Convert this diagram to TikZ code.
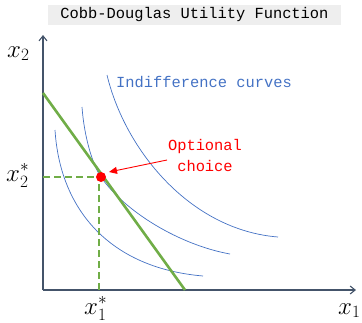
\documentclass[tikz,border=0pt]{standalone}
\usepackage{fontspec}
\setmonofont{Liberation Mono}
\usetikzlibrary{arrows.meta}
\definecolor{icblue}{RGB}{68,114,196}
\definecolor{bgreen}{RGB}{112,173,71}
\definecolor{axisc}{RGB}{68,84,106}
\definecolor{titlebg}{RGB}{238,238,238}
\tikzset{
  axis/.style={draw=axisc, line width=1.1pt, -{Straight Barb[length=5pt,width=8pt]}},
  icurve/.style={draw=icblue, line width=0.7pt},
  budget/.style={draw=bgreen, line width=2.6pt},
  guide/.style={draw=bgreen, line width=2.2pt, dash pattern=on 7pt off 4pt},
  monotxt/.style={font=\fontsize{15.4}{18}\selectfont\ttfamily, inner sep=0pt},
  mathlbl/.style={font=\fontsize{25}{29}\selectfont, inner sep=0pt, anchor=base west},
}
\begin{document}
\begin{tikzpicture}[x=1pt,y=-1pt]
\useasboundingbox (0,0) rectangle (362,322);
% title
\node[fill=titlebg, minimum width=293pt, minimum height=20pt, inner sep=0pt] (titlebox) at (194.5,15) {};
\node[monotxt] (title) at (194.5,15) {Cobb-Douglas Utility Function};
% axes
\coordinate (O) at (43,290);
\coordinate (ytop) at (43,35);
\coordinate (xend) at (356,290);
\draw[axis] (O) -- (ytop);
\draw[axis] (O) -- (xend);
\node[mathlbl] (lx2) at (7,57) {$x_2$};
\node[mathlbl] (lx1) at (338,314) {$x_1$};
% indifference curves
\draw[icurve] (55,130) .. controls (60,210) and (110,268) .. (203,276);
\draw[icurve] (82,107) .. controls (84,135) and (92,164) .. (101,177);
\draw[icurve] (101,177) .. controls (125,212) and (180,245) .. (230,254);
\draw[icurve] (107,75) .. controls (125,150) and (190,230) .. (278,237);
\node[monotxt, text=icblue, anchor=west] (iclbl) at (116,82) {Indifference curves};
% budget line
\coordinate (bA) at (43,93);
\coordinate (bB) at (185,290);
\draw[budget] (bA) -- (bB);
% optimum
\coordinate (opt) at (101,177);
\coordinate (opty) at (43,177);
\coordinate (optx) at (99,290);
\draw[guide] (opty) -- (opt);
\draw[guide] (optx) -- (99,177);
\fill[red] (opt) circle (5pt);
\node[mathlbl] (lx2s) at (6,181) {$x_2^*$};
\node[mathlbl] (lx1s) at (84,314) {$x_1^*$};
% label
\node[monotxt, text=red, align=center] (optlbl) at (205,155) {Optional\\[3pt]choice};
\coordinate (arrs) at (167,160);
\coordinate (arre) at (109,172);
\draw[red, line width=0.9pt, -{Triangle[length=8pt,width=7pt]}] (arrs) -- (arre);
\end{tikzpicture}
\end{document}
